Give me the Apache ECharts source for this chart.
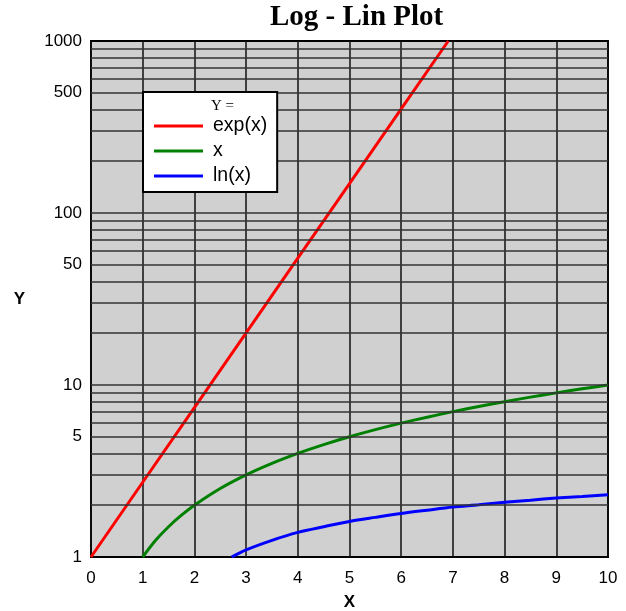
<!DOCTYPE html>
<html>
<head>
<meta charset="utf-8">
<script src="https://cdn.jsdelivr.net/npm/echarts@6/dist/echarts.min.js"></script>
<style>html,body{margin:0;padding:0;background:#fff}#c{width:626px;height:611px}</style>
</head>
<body>
<div id="c"></div>
<script>
// ---- data ----
var expX = [0, 1, 2, 3, 4, 5, 6, 6.91];
var expY = [1, 2.72, 7.39, 20.1, 54.6, 148, 403, 1000];

var linX = [1, 1.25, 1.5, 1.75, 2, 2.5, 3, 3.5, 4, 4.5, 5, 5.5, 6, 6.5, 7, 7.5, 8, 8.5, 9, 9.5, 10];
var linY = [1, 1.25, 1.5, 1.75, 2, 2.5, 3, 3.5, 4, 4.5, 5, 5.5, 6, 6.5, 7, 7.5, 8, 8.5, 9, 9.5, 10];

var lnX = [2.72, 3, 3.5, 4, 4.5, 5, 5.5, 6, 6.5, 7, 7.5, 8, 8.5, 9, 9.5, 10];
var lnY = [1, 1.10, 1.25, 1.39, 1.50, 1.61, 1.70, 1.79, 1.87, 1.95, 2.01, 2.08, 2.14, 2.20, 2.25, 2.30];

var yGridValues = [2,3,4,5,6,7,8,9,10,20,30,40,50,60,70,80,90,100,200,300,400,500,600,700,800,900];
var yTickLabels = [1, 5, 10, 50, 100, 500, 1000];

var seriesNames = ['exp(x)', 'x', 'ln(x)'];
var seriesColors = ['#ff0000', '#008000', '#0000ff'];

function pairs(xs, ys){ return xs.map(function(x,i){ return [x, ys[i]]; }); }

var chart = echarts.init(document.getElementById('c'), null, {renderer:'canvas'});

var labelFont = {fontFamily:'Liberation Sans, Arial, sans-serif', fontSize:17, color:'#000'};

var option = {
  animation:false,
  backgroundColor:'#fff',
  title:{
    text:'Log - Lin Plot',
    left:265, top:-2,
    textStyle:{fontFamily:'Liberation Serif, Times New Roman, serif', fontWeight:'bold', fontSize:29, color:'#000'}
  },
  grid:{
    left:91, top:41, width:517, height:516,
    outerBoundsMode:'none', containLabel:false,
    show:true, backgroundColor:'#d0d0d0', borderColor:'#000', borderWidth:2
  },
  xAxis:{
    type:'value', min:0, max:10, interval:1,
    name:'X', nameLocation:'middle', nameGap:37,
    nameTextStyle:{fontFamily:'Liberation Sans, Arial, sans-serif', fontSize:17, fontWeight:'bold', color:'#000'},
    axisLine:{show:false},
    axisTick:{show:false},
    axisLabel:Object.assign({margin:13}, labelFont),
    splitLine:{show:true, lineStyle:{color:'#111', width:1.5}}
  },
  yAxis:{
    type:'log', logBase:10, min:1, max:1000,
    name:'Y', nameLocation:'middle', nameGap:66, nameRotate:0,
    nameTextStyle:{fontFamily:'Liberation Sans, Arial, sans-serif', fontSize:17, fontWeight:'bold', color:'#000'},
    axisLine:{show:false},
    axisTick:{show:false},
    axisLabel:{show:false},
    splitLine:{show:false}
  },
  legend:{
    data:seriesNames,
    orient:'vertical',
    left:143, top:92,
    padding:[24, 10, 6, 11],
    backgroundColor:'#fff', borderColor:'#000', borderWidth:2,
    icon:'rect', itemWidth:49, itemHeight:3, itemGap:5,
    textStyle:{fontFamily:'Liberation Sans, Arial, sans-serif', fontSize:19.5, lineHeight:20, color:'#000', padding:[0,0,0,5]},
    z:20
  },
  graphic:[
    {type:'text', left:211, top:99, style:{text:'Y =', font:'15px "Liberation Serif", serif', fill:'#000'}, z:100, zlevel:0}
  ],
  series:[
    {
      type:'line', name:'_grid', data:[], z:1, silent:true,
      markLine:{
        silent:true, symbol:['none','none'], animation:false,
        lineStyle:{color:'#333', width:1.5, type:'solid'},
        label:{show:false},
        data:yGridValues.map(function(v){ return {yAxis:v}; })
      }
    },
    {
      type:'line', name:'_labels', data:[], z:1, silent:true,
      markLine:{
        silent:true, symbol:['none','none'], animation:false,
        lineStyle:{color:'transparent', width:1},
        label:Object.assign({show:true, position:'start', distance:9, formatter:function(p){return String(p.value);}}, labelFont),
        data:yTickLabels.map(function(v){ return {yAxis:v}; })
      }
    },
    {name:seriesNames[0], type:'line', data:pairs(expX, expY), showSymbol:false, lineStyle:{color:seriesColors[0], width:3}, itemStyle:{color:seriesColors[0]}, z:3},
    {name:seriesNames[1], type:'line', data:pairs(linX, linY), smooth:0.3, showSymbol:false, lineStyle:{color:seriesColors[1], width:3}, itemStyle:{color:seriesColors[1]}, z:3},
    {name:seriesNames[2], type:'line', data:pairs(lnX, lnY), smooth:0.3, showSymbol:false, lineStyle:{color:seriesColors[2], width:3}, itemStyle:{color:seriesColors[2]}, z:3}
  ]
};
chart.setOption(option);
</script>
</body>
</html>
